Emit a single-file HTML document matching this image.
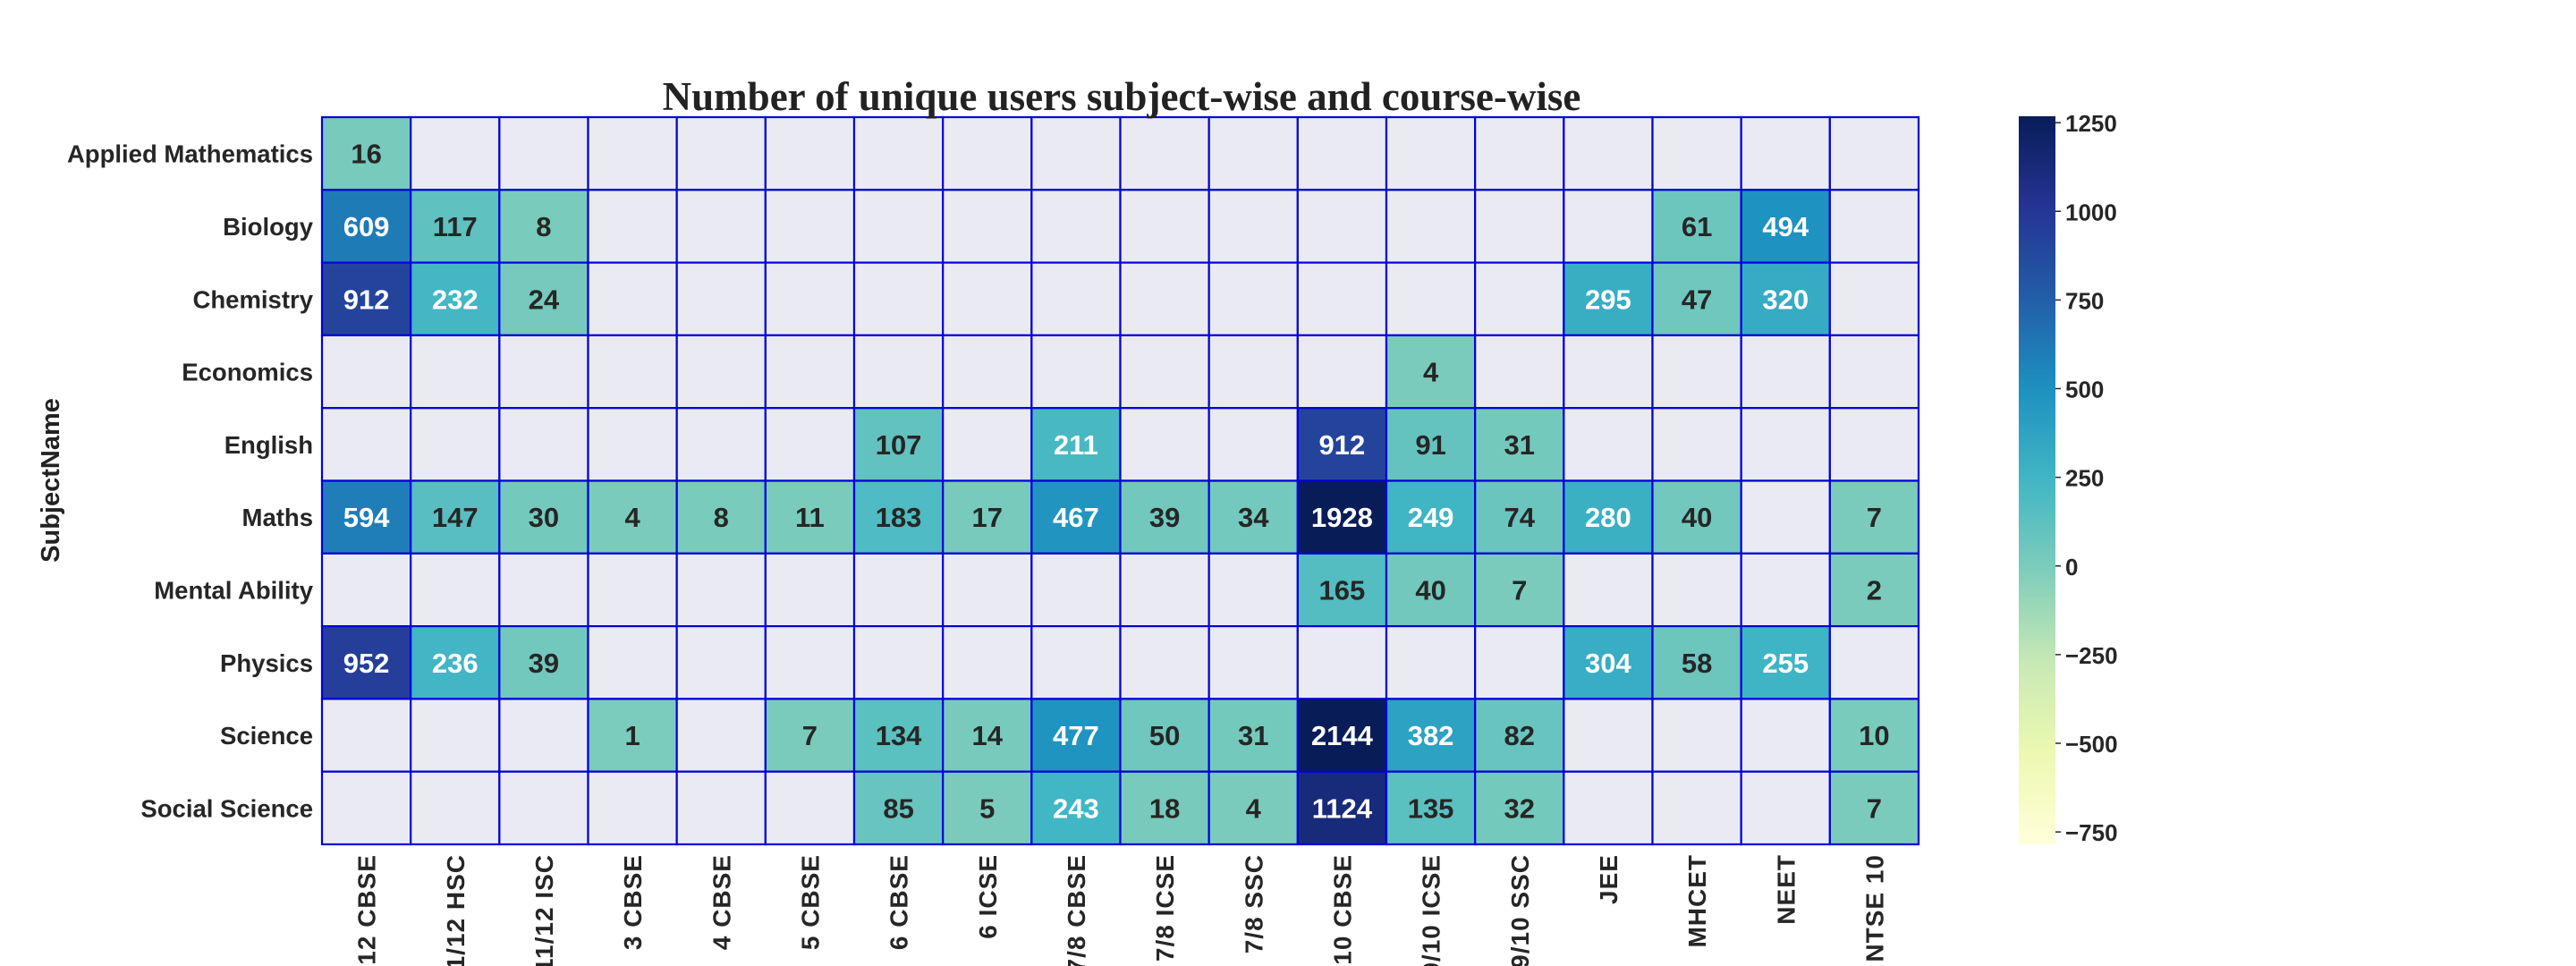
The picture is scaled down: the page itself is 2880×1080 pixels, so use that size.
<!DOCTYPE html>
<html><head><meta charset="utf-8"><style>
html,body{margin:0;padding:0;background:#fff;width:2880px;height:1080px;overflow:hidden}
text{font-family:"Liberation Sans",sans-serif;font-weight:bold}
</style></head><body>
<svg id="chart" width="2880" height="1080" xmlns="http://www.w3.org/2000/svg">
<text transform="translate(66,537) rotate(-90)" text-anchor="middle" font-size="29" fill="#222">SubjectName</text>
<defs><linearGradient id="cbg" x1="0" y1="1" x2="0" y2="0">
<stop offset="0" stop-color="#ffffd9"/><stop offset="0.125" stop-color="#edf8b1"/><stop offset="0.25" stop-color="#c7e9b4"/><stop offset="0.375" stop-color="#7fcdbb"/><stop offset="0.5" stop-color="#41b6c4"/><stop offset="0.625" stop-color="#1d91c0"/><stop offset="0.75" stop-color="#225ea8"/><stop offset="0.875" stop-color="#253494"/><stop offset="1" stop-color="#081d58"/>
</linearGradient></defs>
<rect x="2257" y="130" width="41" height="814" fill="url(#cbg)"/>
<g id="cells"></g><g id="labels"></g>
<text x="1254" y="123" text-anchor="middle" style="font-family:'Liberation Serif',serif;font-size:45px;font-weight:bold" fill="#222">Number of unique users subject-wise and course-wise</text>
</svg>
<script>
const rows = ["Applied Mathematics","Biology","Chemistry","Economics","English","Maths","Mental Ability","Physics","Science","Social Science"];
const cols = ["11/12 CBSE","11/12 HSC","11/12 ISC","3 CBSE","4 CBSE","5 CBSE","6 CBSE","6 ICSE","7/8 CBSE","7/8 ICSE","7/8 SSC","9/10 CBSE","9/10 ICSE","9/10 SSC","JEE","MHCET","NEET","NTSE 10"];
const N = null;
const rowAppliedMath = [16,N,N,N,N,N,N,N,N,N,N,N,N,N,N,N,N,N];
const rowBiology = [609,117,8,N,N,N,N,N,N,N,N,N,N,N,N,61,494,N];
const rowChemistry = [912,232,24,N,N,N,N,N,N,N,N,N,N,N,295,47,320,N];
const rowEconomics = [N,N,N,N,N,N,N,N,N,N,N,N,4,N,N,N,N,N];
const rowEnglish = [N,N,N,N,N,N,107,N,211,N,N,912,91,31,N,N,N,N];
const rowMaths = [594,147,30,4,8,11,183,17,467,39,34,1928,249,74,280,40,N,7];
const rowMental = [N,N,N,N,N,N,N,N,N,N,N,165,40,7,N,N,N,2];
const rowPhysics = [952,236,39,N,N,N,N,N,N,N,N,N,N,N,304,58,255,N];
const rowScience = [N,N,N,1,N,7,134,14,477,50,31,2144,382,82,N,N,N,10];
const rowSocial = [N,N,N,N,N,N,85,5,243,18,4,1124,135,32,N,N,N,7];
const values = [rowAppliedMath,rowBiology,rowChemistry,rowEconomics,rowEnglish,rowMaths,rowMental,rowPhysics,rowScience,rowSocial];
const cbTicks = [1250,1000,750,500,250,0,-250,-500,-750];
const vmin = -785, vmax = 1268;

const X0=360, X1=2145, Y0=131, Y1=944;
const cw=(X1-X0)/cols.length, rh=(Y1-Y0)/rows.length;
const xs = i => X0 + i*cw;
const ys = j => Y0 + j*rh;
const cbY = v => 944 - (v - vmin)/(vmax - vmin)*814;
const stops = ["#ffffd9","#edf8b1","#c7e9b4","#7fcdbb","#41b6c4","#1d91c0","#225ea8","#253494","#081d58"];
function hex(h){return [1,3,5].map(k=>parseInt(h.substr(k,2),16));}
function color(v){
  let t=Math.max(0,Math.min(1,(v-vmin)/(vmax-vmin)))*8;
  let i=Math.min(7,Math.floor(t)), f=t-i;
  const a=hex(stops[i]), b=hex(stops[i+1]);
  return "rgb("+a.map((c,k)=>Math.round(c+(b[k]-c)*f)).join(",")+")";
}
const NS="http://www.w3.org/2000/svg";
const cells=document.getElementById("cells"), labels=document.getElementById("labels");
function mk(tag,attrs,parent,txt){const e=document.createElementNS(NS,tag);for(const k in attrs)e.setAttribute(k,attrs[k]);if(txt!==undefined)e.textContent=txt;parent.appendChild(e);return e;}
values.forEach((row,j)=>{
  row.forEach((v,i)=>{
    const r=mk("rect",{x:xs(i),y:ys(j),width:cw,height:rh,fill:v===null?"#eaeaf2":color(v),stroke:"#0000dd","stroke-width":2.2},cells);
    
    
    if(v!==null){
      const t=mk("text",{x:xs(i)+cw/2,y:ys(j)+rh/2+11,"text-anchor":"middle","font-size":31,fill:v>=200?"#fff":"#262626"},labels,String(v));
      
      
    }
  });
});
rows.forEach((n,j)=>{
  const t=mk("text",{x:350,y:ys(j)+rh/2+10,"text-anchor":"end","font-size":27.5,fill:"#262626"},labels,n);
  
  
});
cols.forEach((n,i)=>{
  const cx=xs(i)+cw/2+10;
  const t=mk("text",{transform:"translate("+cx+",955) rotate(-90)","text-anchor":"end","font-size":28,fill:"#262626","letter-spacing":"1"},labels,n);
  
  
});
cbTicks.forEach(v=>{
  const y=cbY(v);
  const l=mk("line",{x1:2298,x2:2304,y1:y,y2:y,stroke:"#262626","stroke-width":1.5},labels);
  
  
  const t=mk("text",{x:2309,y:y+10,"font-size":26,fill:"#262626"},labels,String(v).replace("-","\u2212"));
  
  
});
</script>
</body></html>
